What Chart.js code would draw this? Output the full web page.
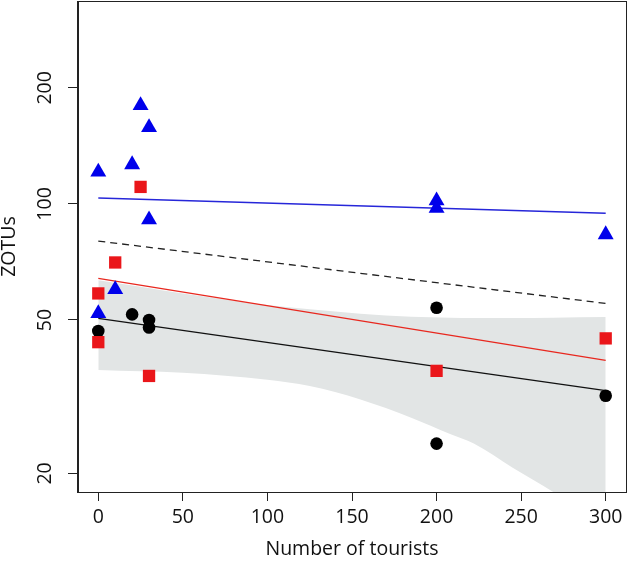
<!DOCTYPE html>
<html><head><meta charset="utf-8">
<script src="https://cdn.jsdelivr.net/npm/chart.js@4/dist/chart.umd.min.js"></script>
<style>html,body{margin:0;padding:0;background:#fff}#wrap{width:629px;height:565px}</style>
</head><body><div id="wrap"><canvas id="c" width="629" height="565"></canvas></div>
<script>
// ---- data ----
const xTicks = [0, 50, 100, 150, 200, 250, 300];
const yTicks = [20, 50, 100, 200];

const blueX = [0, 0, 10, 20, 25, 30, 30, 200, 200, 300];
const blueY = [121, 52, 60, 126.5, 180, 158, 91, 102, 97.5, 83.3];

const redX = [0, 0, 10, 25, 30, 200, 300];
const redY = [58.6, 43.8, 70.5, 110.7, 35.8, 36.9, 44.8];

const blackX = [0, 20, 30, 30, 200, 200, 300];
const blackY = [46.8, 51.7, 50, 47.8, 53.8, 23.9, 31.8];

const fitX = [0, 300];
const blueFit = [103.6, 94.6];
const dashedFit = [80.1, 55.2];
const redFit = [64.1, 39.3];
const blackFit = [50.5, 32.8];

const bandX = [0, 25, 50, 100, 125, 155, 185, 208, 222, 245, 269, 300];
const bandUpper = [63.4, 61.0, 58.6, 54.7, 53.3, 51.9, 51.0, 50.7, 50.6, 50.6, 50.7, 50.9];
const bandLower = [37.1, 36.8, 36.5, 35.0, 33.7, 31.1, 27.9, 25.3, 23.9, 20.7, 17.9, 14.6];

const xTitle = 'Number of tourists';
const yTitle = 'ZOTUs';

// ---- helpers ----
const pts = (xs, ys) => xs.map((x, i) => ({x: x, y: ys[i]}));
const FONT = {family: "'Open Sans', sans-serif", size: 19.5};
const AXIS = '#222';

const boxPlugin = {
  id: 'box',
  afterDatasetsDraw(chart) {
    const a = chart.chartArea, ctx = chart.ctx;
    ctx.save();
    ctx.strokeStyle = AXIS;
    ctx.lineWidth = 1;
    ctx.strokeRect(Math.round(a.left) - 0.5, Math.round(a.top) + 0.5,
                   Math.round(a.right - a.left) + 1, Math.round(a.bottom - a.top));
    ctx.restore();
  }
};

const lineDs = (ys, color, width, dash, order) => ({
  type: 'line', data: pts(fitX, ys), borderColor: color, borderWidth: width,
  borderDash: dash, pointRadius: 0, fill: false, order: order, tension: 0
});

new Chart(document.getElementById('c'), {
  type: 'scatter',
  data: {
    datasets: [
      {type: 'line', data: pts(bandX, bandLower), borderWidth: 0, borderColor: 'rgba(0,0,0,0)',
       pointRadius: 0, fill: false, order: 20, cubicInterpolationMode: 'monotone'},
      {type: 'line', data: pts(bandX, bandUpper), borderWidth: 0, borderColor: 'rgba(0,0,0,0)',
       backgroundColor: 'rgb(226,229,229)', pointRadius: 0, fill: '-1', order: 19,
       cubicInterpolationMode: 'monotone'},
      lineDs(blueFit, '#2626d9', 1.3, [], 10),
      lineDs(dashedFit, '#222', 1.3, [7, 5], 10),
      lineDs(redFit, '#e8281f', 1.3, [], 10),
      lineDs(blackFit, '#111', 1.4, [], 10),
      {data: pts(blackX, blackY), pointStyle: 'circle', pointRadius: 6.3,
       backgroundColor: '#000', borderColor: '#000', borderWidth: 0, order: 3},
      {data: pts(redX, redY), pointStyle: 'rect', pointRadius: 8.7,
       backgroundColor: 'rgb(234,22,26)', borderColor: 'rgb(234,22,26)', borderWidth: 0, order: 2},
      {data: pts(blueX, blueY), pointStyle: 'triangle', pointRadius: 9.2,
       backgroundColor: 'rgb(0,0,235)', borderColor: 'rgb(0,0,235)', borderWidth: 0, order: 1}
    ]
  },
  options: {
    responsive: false, animation: false, devicePixelRatio: 1,
    layout: {autoPadding: false, padding: {top: 1, right: 3, left: 0, bottom: 0}},
    plugins: {legend: {display: false}, tooltip: {enabled: false}},
    elements: {point: {hoverRadius: 0}},
    scales: {
      x: {
        type: 'linear', min: -12, max: 312,
        afterBuildTicks: s => { s.ticks = xTicks.map(v => ({value: v})); },
        afterFit: s => { s.height = 73; s.paddingLeft = 0; s.paddingRight = 0; },
        grid: {display: true, drawOnChartArea: false, drawTicks: true, tickLength: 9, color: AXIS},
        border: {display: true, color: AXIS, width: 1},
        ticks: {color: '#111', font: FONT, padding: 5, maxRotation: 0, autoSkip: false,
                callback: v => String(v)},
        title: {display: true, text: xTitle, color: '#111', font: FONT, padding: {top: 0, bottom: 4}}
      },
      y: {
        type: 'logarithmic', min: 17.9, max: 336,
        afterBuildTicks: s => { s.ticks = yTicks.map(v => ({value: v})); },
        afterFit: s => { s.width = 78; s.paddingTop = 0; s.paddingBottom = 0; },
        grid: {display: true, drawOnChartArea: false, drawTicks: true, tickLength: 10, color: AXIS},
        border: {display: true, color: AXIS, width: 1},
        ticks: {color: '#111', font: FONT, padding: 5.5, minRotation: 90, maxRotation: 90,
                crossAlign: 'center', autoSkip: false, callback: v => String(v)},
        title: {display: true, text: yTitle, color: '#111',
                font: {family: FONT.family, size: 19.5, lineHeight: 1.0}, padding: {top: 0, bottom: 0}}
      }
    }
  },
  plugins: [boxPlugin]
});
</script>
</body></html>
